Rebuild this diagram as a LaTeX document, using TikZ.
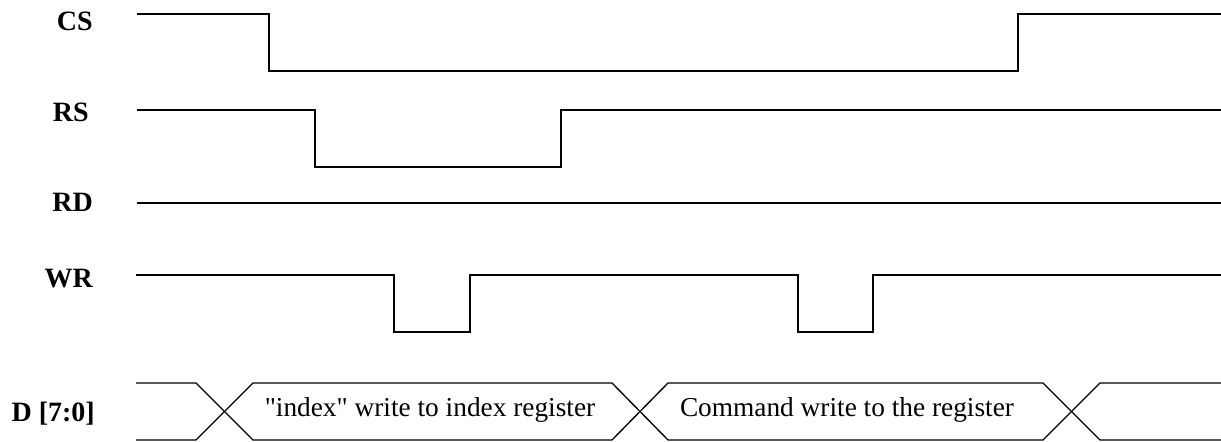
\documentclass[tikz,border=0pt]{standalone}
\usepackage{fontspec}
\setmainfont{Liberation Serif}[Ligatures=TeXOff]
\usepackage{tikz}

\begin{document}
\begin{tikzpicture}[x=0.75pt,y=-0.75pt,
  sig/.style={line width=1.4pt, line join=miter},
  bus/.style={line width=1pt},
  lbl/.style={anchor=base east, inner sep=0pt, font=\fontsize{21}{24}\selectfont\bfseries},
  txt/.style={anchor=base, inner sep=0pt, font=\fontsize{20.5}{24}\selectfont}]
\useasboundingbox (0,0) rectangle (1221,442);
%%% signal names
\node[lbl] (CS) at (93,30.5) {CS};
\node[lbl] (RS) at (89,121.5) {RS};
\node[lbl] (RD) at (93,212) {RD};
\node[lbl] (WR) at (93,287) {WR};
\node[lbl] (D)  at (95,421) {D [7:0]};

%%% waveforms
\draw[sig] (137,14)--(269,14)--(269,71)--(1018,71)--(1018,14)--(1221,14);
\draw[sig] (137,110)--(315,110)--(315,167)--(561,167)--(561,110)--(1221,110);
\draw[sig] (137,203)--(1221,203);
\draw[sig] (136,275)--(394,275)--(394,332)--(470,332)--(470,275)--(798,275)
  --(798,332)--(873,332)--(873,275)--(1221,275);

%%% data bus
\draw[bus] (136,383)--(196,383)--(253,440)--(612,440)--(668,383)--(1043,383)--(1100,440)--(1221,440);
\draw[bus] (136,440)--(196,440)--(253,383)--(612,383)--(668,440)--(1043,440)--(1100,383)--(1221,383);
\node[txt] (idx) at (430,416) {"index" write to index register};
\node[txt] (cmd) at (847,416) {Command write to the register};

\end{tikzpicture}
\end{document}
